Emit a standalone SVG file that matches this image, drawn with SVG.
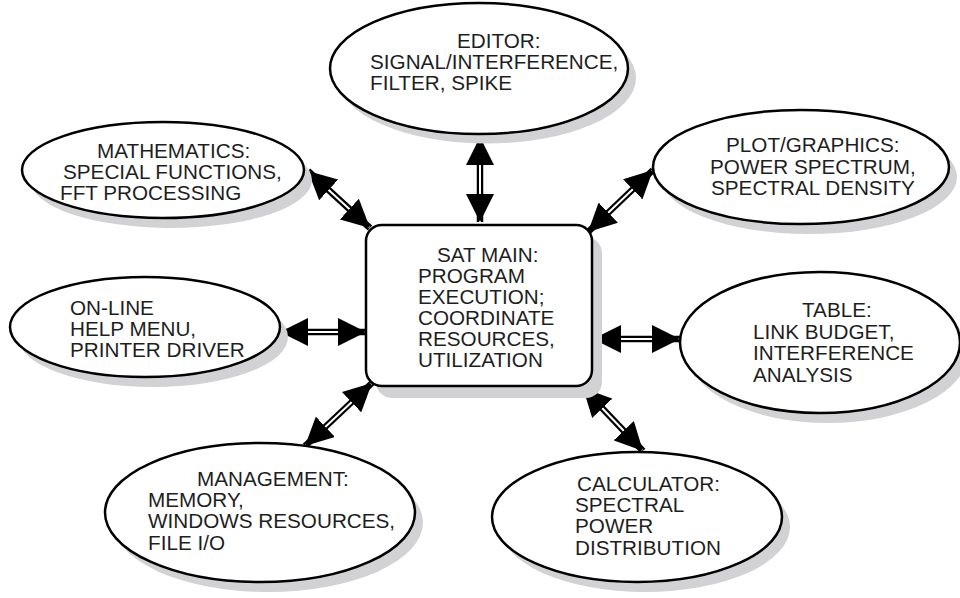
<svg xmlns="http://www.w3.org/2000/svg" width="960" height="598" viewBox="0 0 960 598">
<style>
.sh{fill:#d2d2d4;stroke:none}
.nd{fill:#fff;stroke:#000;stroke-width:2.5}
.t{font-family:"Liberation Sans",Arial,sans-serif;font-size:20.7px;fill:#1e1e1e}
.ob{stroke:#000;stroke-width:6.5;fill:none}
.ib{stroke:#fff;stroke-width:2;fill:none;marker-start:url(#ah);marker-end:url(#ah)}
</style>
<defs>
<marker id="ah" markerUnits="userSpaceOnUse" viewBox="0 0 28 28" refX="28" refY="14" markerWidth="28" markerHeight="28" orient="auto-start-reverse">
<path d="M0,0 L28,14 L0,28 Z" fill="#000"/>
</marker>
</defs>
<rect width="960" height="598" fill="#fff"/>

<g id="connectors">
<path class="ob" d="M480,137 L480,222"/><path class="ib" d="M480,137 L480,222"/>
<path class="ob" d="M308,171 L370,228"/><path class="ib" d="M308,171 L370,228"/>
<path class="ob" d="M653,170 L588,232"/><path class="ib" d="M653,170 L588,232"/>
<path class="ob" d="M280,332 L366,332"/><path class="ib" d="M280,332 L366,332"/>
<path class="ob" d="M593,339 L680,339"/><path class="ib" d="M593,339 L680,339"/>
<path class="ob" d="M372,383 L305,446"/><path class="ib" d="M372,383 L305,446"/>
<path class="ob" d="M583,388 L643,451"/><path class="ib" d="M583,388 L643,451"/>
</g>

<g id="main">
<rect class="sh" x="376" y="237" width="226" height="161" rx="16"/>
<rect class="nd" x="366" y="225" width="226" height="161" rx="16"/>
<text class="t"><tspan x="437" y="262">SAT MAIN:</tspan><tspan x="418" y="283">PROGRAM</tspan><tspan x="418" y="304">EXECUTION;</tspan><tspan x="418" y="325">COORDINATE</tspan><tspan x="418" y="346">RESOURCES,</tspan><tspan x="418" y="367">UTILIZATION</tspan></text>
</g>

<g id="editor">
<ellipse class="sh" cx="487" cy="78" rx="149" ry="65.5"/>
<ellipse class="nd" cx="479" cy="68.5" rx="149" ry="65.5"/>
<text class="t"><tspan x="457" y="48">EDITOR:</tspan><tspan x="370" y="69">SIGNAL/INTERFERENCE,</tspan><tspan x="370" y="90">FILTER, SPIKE</tspan></text>
</g>

<g id="mathematics">
<ellipse class="sh" cx="171" cy="180" rx="141" ry="48"/>
<ellipse class="nd" cx="163" cy="170" rx="141" ry="48"/>
<text class="t"><tspan x="97" y="158">MATHEMATICS:</tspan><tspan x="63" y="179">SPECIAL FUNCTIONS,</tspan><tspan x="60" y="200">FFT PROCESSING</tspan></text>
</g>

<g id="plot">
<ellipse class="sh" cx="809" cy="177" rx="148" ry="57"/>
<ellipse class="nd" cx="801" cy="167" rx="148" ry="57"/>
<text class="t"><tspan x="726" y="152">PLOT/GRAPHICS:</tspan><tspan x="710" y="174">POWER SPECTRUM,</tspan><tspan x="711" y="195">SPECTRAL DENSITY</tspan></text>
</g>

<g id="online">
<ellipse class="sh" cx="153" cy="337" rx="135" ry="50"/>
<ellipse class="nd" cx="145" cy="327" rx="135" ry="50"/>
<text class="t"><tspan x="70" y="315">ON-LINE</tspan><tspan x="70" y="336">HELP MENU,</tspan><tspan x="70" y="357">PRINTER DRIVER</tspan></text>
</g>

<g id="table">
<ellipse class="sh" cx="828" cy="352.5" rx="140" ry="70.5"/>
<ellipse class="nd" cx="820" cy="342.5" rx="140" ry="70.5"/>
<text class="t"><tspan x="802" y="317">TABLE:</tspan><tspan x="753" y="339">LINK BUDGET,</tspan><tspan x="753" y="360">INTERFERENCE</tspan><tspan x="753" y="382">ANALYSIS</tspan></text>
</g>

<g id="management">
<ellipse class="sh" cx="268" cy="522.5" rx="155" ry="69.5"/>
<ellipse class="nd" cx="260" cy="512.5" rx="155" ry="69.5"/>
<text class="t"><tspan x="197" y="486">MANAGEMENT:</tspan><tspan x="148" y="507">MEMORY,</tspan><tspan x="148" y="528">WINDOWS RESOURCES,</tspan><tspan x="148" y="550">FILE I/O</tspan></text>
</g>

<g id="calculator">
<ellipse class="sh" cx="645" cy="527" rx="145" ry="65"/>
<ellipse class="nd" cx="637" cy="517" rx="145" ry="65"/>
<text class="t"><tspan x="577" y="491">CALCULATOR:</tspan><tspan x="575" y="512">SPECTRAL</tspan><tspan x="575" y="533">POWER</tspan><tspan x="575" y="555">DISTRIBUTION</tspan></text>
</g>
</svg>
